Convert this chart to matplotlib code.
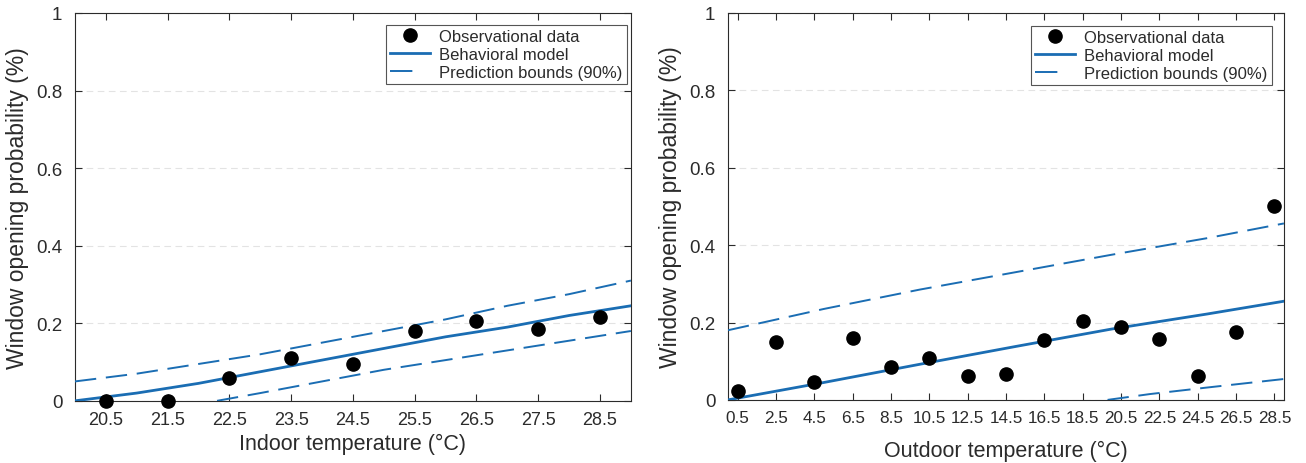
import matplotlib

matplotlib.use('Agg')

import matplotlib.pyplot as plt

plt.rcParams['font.family'] = ['Liberation Sans', 'DejaVu Sans']

# Indoor temperature panel
indoor_temp = [20.5, 21.5, 22.5, 23.5, 24.5, 25.5, 26.5, 27.5, 28.5]
indoor_obs = [0.0, 0.0, 0.06, 0.11, 0.095, 0.18, 0.205, 0.185, 0.215]
indoor_model_x = [20, 21, 22, 23, 24, 25, 26, 27, 28, 29]
indoor_model = [0.0, 0.02, 0.045, 0.075, 0.105, 0.135, 0.165, 0.19, 0.22, 0.245]
indoor_upper = [0.05, 0.07, 0.095, 0.12, 0.15, 0.18, 0.21, 0.245, 0.275, 0.31]
indoor_lower_x = [22.3, 23, 24, 25, 26, 27, 28, 29]
indoor_lower = [0.0, 0.02, 0.05, 0.08, 0.105, 0.13, 0.155, 0.18]

# Outdoor temperature panel
outdoor_temp = [0.5, 2.5, 4.5, 6.5, 8.5, 10.5, 12.5, 14.5, 16.5, 18.5, 20.5, 22.5, 24.5, 26.5, 28.5]
outdoor_obs = [0.022, 0.15, 0.045, 0.16, 0.084, 0.109, 0.063, 0.066, 0.155, 0.204, 0.189, 0.157, 0.061, 0.176, 0.50]
outdoor_model_x = [0, 5, 10, 15, 20, 25, 29]
outdoor_model = [0.0, 0.045, 0.092, 0.138, 0.183, 0.222, 0.255]
outdoor_upper = [0.18, 0.235, 0.285, 0.33, 0.375, 0.418, 0.456]
outdoor_lower_x = [19.8, 22, 25, 29]
outdoor_lower = [0.0, 0.015, 0.032, 0.054]

y_ticks = [0, 0.2, 0.4, 0.6, 0.8, 1]
y_tick_labels = ['0', '0.2', '0.4', '0.6', '0.8', '1']

blue = '#1a6db3'
ink = '#2b2b2b'

fig = plt.figure(figsize=(13.06, 4.64), dpi=100)
ax1 = fig.add_axes([0.0574, 0.134, 0.4257, 0.836])
ax2 = fig.add_axes([0.5574, 0.136, 0.4257, 0.834])


def draw_panel(ax, tx, obs, mx, model, upper, lx, lower, xlim, xticks, xlabel,
               tick_size, legend_anchor):
    ax.plot(tx, obs, 'o', color='black', markersize=9.5, clip_on=False, zorder=5,
            label='Observational data')
    ax.plot(mx, model, '-', color=blue, lw=2.0, label='Behavioral model', zorder=4)
    ax.plot(mx, upper, '--', color=blue, lw=1.4, dashes=(11, 5),
            label='Prediction bounds (90%)', zorder=3)
    ax.plot(lx, lower, '--', color=blue, lw=1.4, dashes=(11, 5), zorder=3)

    ax.set_xlim(*xlim)
    ax.set_ylim(0, 1)
    ax.set_xticks(xticks)
    ax.set_xticklabels([f'{t:g}' for t in xticks])
    ax.set_yticks(y_ticks)
    ax.set_yticklabels(y_tick_labels)
    ax.tick_params(direction='in', length=5, width=0.8, colors=ink,
                   labelsize=tick_size, top=True, right=True)
    ax.tick_params(axis='x', pad=7)
    ax.tick_params(axis='y', pad=9, labelsize=13.5)
    ax.grid(axis='y', color='#e3e3e3', linestyle=(0, (6, 4)), lw=0.8)
    for s in ax.spines.values():
        s.set_color(ink)
        s.set_linewidth(0.8)

    ax.set_xlabel(xlabel, fontsize=15.5, color=ink, labelpad=4)
    ax.set_ylabel('Window opening probability (%)', fontsize=16.5, color=ink, labelpad=5)

    leg = ax.legend(loc='upper right', bbox_to_anchor=legend_anchor, borderaxespad=0,
                    fontsize=12, frameon=True, fancybox=False,
                    borderpad=0.25, labelspacing=0.18, handlelength=2.4,
                    handletextpad=0.55)
    leg.get_frame().set_edgecolor(ink)
    leg.get_frame().set_linewidth(0.8)
    leg.get_lines()[2].set_dashes((11.5, 30))
    for t in leg.get_texts():
        t.set_color(ink)


draw_panel(ax1, indoor_temp, indoor_obs, indoor_model_x, indoor_model, indoor_upper,
           indoor_lower_x, indoor_lower, (20, 29), indoor_temp,
           'Indoor temperature (°C)', 13, (0.993, 0.969))
draw_panel(ax2, outdoor_temp, outdoor_obs, outdoor_model_x, outdoor_model, outdoor_upper,
           outdoor_lower_x, outdoor_lower, (0, 29), outdoor_temp,
           'Outdoor temperature (°C)', 12.3, (0.978, 0.966))
ax2.xaxis.labelpad = 11

fig.savefig('out.png', dpi=100)
